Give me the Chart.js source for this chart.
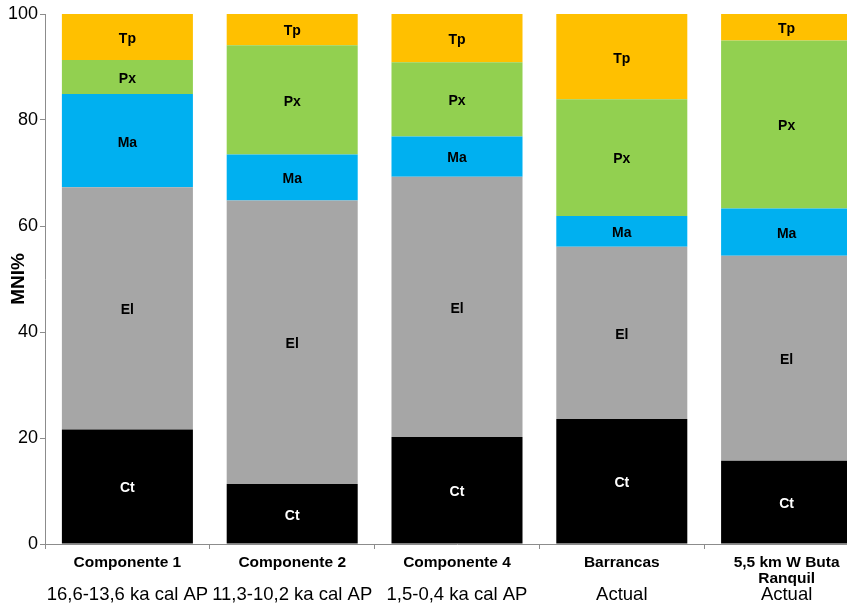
<!DOCTYPE html>
<html>
<head>
    <meta charset="UTF-8">
    <title>MNI%</title>
    <script src="https://cdn.jsdelivr.net/npm/chart.js"></script>
</head>
<style>
    html, body {
        margin: 0;
        padding: 0;
        overflow: hidden;
        background: #fff;
    }
    #box {
        width: 870px;
        height: 603px;
    }
</style>
<body>
    <div id="box">
        <canvas id="myChart"></canvas>
    </div>

<script>
    // categories: bold first line, then the age line underneath
    const sites = ['Componente 1', 'Componente 2', 'Componente 4', 'Barrancas', ['5,5 km W Buta', 'Ranquil']];
    const ages = ['16,6-13,6 ka cal AP', '11,3-10,2 ka cal AP', '1,5-0,4 ka cal AP', 'Actual', 'Actual'];

    // MNI% per taxon, bottom to top
    const ct = [21.6, 11.3, 20.2, 23.6, 15.7];
    const el = [45.7, 53.5, 49.1, 32.5, 38.7];
    const ma = [17.6, 8.7, 7.6, 5.8, 8.9];
    const px = [6.4, 20.6, 14.0, 22.0, 31.7];
    const tp = [8.7, 5.9, 9.1, 16.1, 5.0];

    const yTicks = [0, 20, 40, 60, 80, 100];

    const font = "'Liberation Sans', Arial, sans-serif";

    // writes the series name in the middle of every segment
    const segmentLabels = {
        id: 'segmentLabels',
        afterDatasetsDraw(chart) {
            const ctx = chart.ctx;
            ctx.save();
            ctx.font = 'bold 14px ' + font;
            ctx.textAlign = 'center';
            ctx.textBaseline = 'middle';
            chart.data.datasets.forEach((ds, i) => {
                const meta = chart.getDatasetMeta(i);
                meta.data.forEach(bar => {
                    ctx.fillStyle = ds.labelColor;
                    ctx.fillText(ds.label, bar.x, (bar.y + bar.base) / 2 + 2);
                });
            });
            ctx.restore();
        }
    };

    const chartCanvas = document.getElementById('myChart');

    new Chart(chartCanvas, {
        type: 'bar',
        data: {
            labels: sites,
            datasets: [
                { label: 'Ct', data: ct, backgroundColor: '#000000', labelColor: '#ffffff' },
                { label: 'El', data: el, backgroundColor: '#a6a6a6', labelColor: '#000000' },
                { label: 'Ma', data: ma, backgroundColor: '#00b0f0', labelColor: '#000000' },
                { label: 'Px', data: px, backgroundColor: '#92d050', labelColor: '#000000' },
                { label: 'Tp', data: tp, backgroundColor: '#ffc000', labelColor: '#000000' }
            ]
        },
        options: {
            responsive: true,
            maintainAspectRatio: false,
            animation: false,
            datasets: {
                bar: {
                    categoryPercentage: 1,
                    barPercentage: 0.795,
                    borderWidth: 0
                }
            },
            layout: {
                padding: { top: 14, right: 1, left: 0, bottom: 0 }
            },
            scales: {
                x: {
                    stacked: true,
                    position: 'bottom',
                    grid: {
                        drawOnChartArea: false,
                        drawTicks: true,
                        tickLength: 5,
                        offset: true,
                        color: '#8c8c8c'
                    },
                    border: { color: '#8c8c8c' },
                    ticks: {
                        color: '#000',
                        font: { family: font, size: 15.5, weight: 'bold', lineHeight: 1.07 },
                        padding: 5,
                        maxRotation: 0,
                        autoSkip: false
                    },
                    afterFit(scale) { scale.height = 42; }
                },
                x2: {
                    type: 'category',
                    labels: ages,
                    position: 'bottom',
                    grid: { display: false, drawTicks: false },
                    border: { display: false },
                    ticks: {
                        color: '#000',
                        font: { family: font, size: 18.5, lineHeight: 1 },
                        padding: 0,
                        maxRotation: 0,
                        autoSkip: false
                    },
                    afterFit(scale) { scale.height = 17; }
                },
                y: {
                    stacked: true,
                    min: 0,
                    max: 100,
                    afterBuildTicks(scale) {
                        scale.ticks = yTicks.map(v => ({ value: v }));
                    },
                    grid: {
                        drawOnChartArea: false,
                        drawTicks: true,
                        tickLength: 5,
                        color: '#8c8c8c'
                    },
                    border: { color: '#8c8c8c' },
                    ticks: {
                        color: '#000',
                        font: { family: font, size: 18 },
                        padding: 2
                    },
                    title: {
                        display: true,
                        text: 'MNI%',
                        color: '#000',
                        font: { family: font, size: 19, weight: 'bold' },
                        padding: { top: 7, bottom: 0 }
                    },
                    afterFit(scale) { scale.width = 45; }
                }
            },
            plugins: {
                legend: { display: false },
                tooltip: { enabled: false }
            }
        },
        plugins: [segmentLabels]
    });
</script>
</body>
</html>
